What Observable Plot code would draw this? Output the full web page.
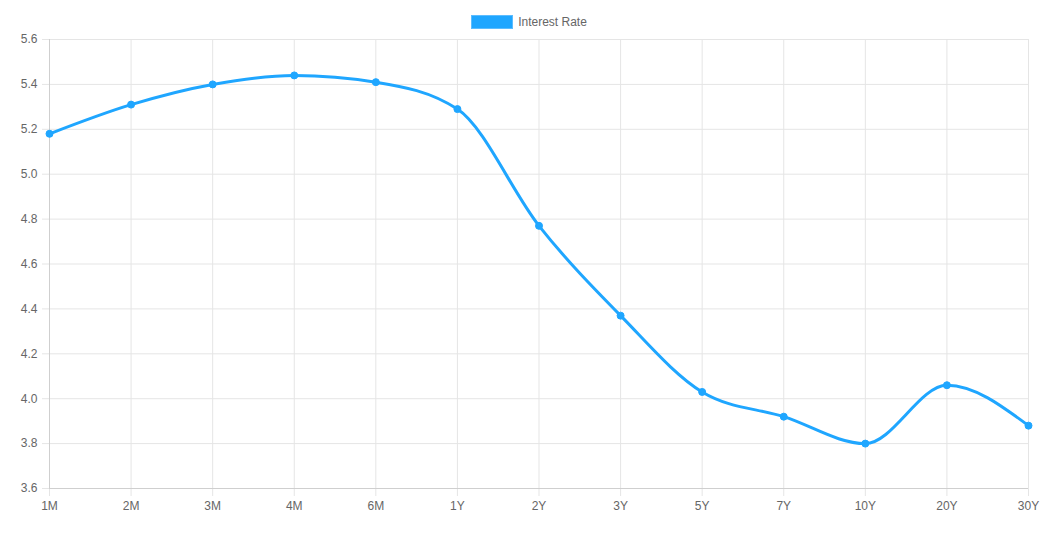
<!DOCTYPE html>
<html>
<head>
<meta charset="utf-8">
<script src="https://cdn.jsdelivr.net/npm/d3@7"></script>
<script src="https://cdn.jsdelivr.net/npm/@observablehq/plot@0.6"></script>
<style>
  html, body { margin: 0; padding: 0; background: #fff; }
  body { width: 1056px; height: 546px; overflow: hidden; font-family: "Liberation Sans", Arial, Helvetica, sans-serif; }
  #legend { height: 28px; display: flex; justify-content: center; align-items: flex-start; }
  #legend .item { display: flex; align-items: center; margin-top: 15px; margin-left: 2px; }
  #legend .box { width: 40px; height: 12px; background: #1fa6ff; border: 1px solid #5cbcff; box-sizing: content-box; margin-right: 5px; }
  #legend .label { font-size: 12px; color: #666; line-height: 14px; }
</style>
</head>
<body>
<div id="legend"><div class="item"><div class="box"></div><div class="label">Interest Rate</div></div></div>
<div id="chart"></div>
<script>
const maturities = ["1M", "2M", "3M", "4M", "6M", "1Y", "2Y", "3Y", "5Y", "7Y", "10Y", "20Y", "30Y"];
const rates = [5.18, 5.31, 5.40, 5.44, 5.41, 5.29, 4.77, 4.37, 4.03, 3.92, 3.80, 4.06, 3.88];
const yTicks = [3.6, 3.8, 4.0, 4.2, 4.4, 4.6, 4.8, 5.0, 5.2, 5.4, 5.6];
const seriesName = "Interest Rate";

const data = maturities.map((m, i) => ({maturity: m, rate: rates[i], series: seriesName}));
const color = "#1fa6ff";
const grid = "#e5e5e5";

const chart = Plot.plot({
  width: 1056,
  height: 518,
  marginTop: 11,
  marginBottom: 58,
  marginLeft: 49,
  marginRight: 28,
  style: {fontFamily: "'Liberation Sans', Arial, Helvetica, sans-serif", fontSize: "12px", background: "#fff"},
  x: {type: "point", domain: maturities, padding: 0, round: false, label: null},
  y: {domain: [3.6, 5.6], label: null},
  marks: [
    Plot.ruleY(yTicks, {y: d => d, stroke: grid, strokeWidth: 1}),
    Plot.ruleX(maturities, {x: d => d, stroke: grid, strokeWidth: 1}),
    Plot.axisY(yTicks, {tickSize: 7, tickPadding: 5, stroke: grid, fill: "#666", tickFormat: d3.format(".1f"), label: null, fontSize: 12}),
    Plot.axisX(maturities, {tickSize: 8, tickPadding: 5, stroke: grid, fill: "#666", label: null, fontSize: 12}),
    Plot.ruleY([3.6], {stroke: "#cfcfcf"}),
    Plot.ruleX([maturities[0]], {stroke: "#cfcfcf"}),
    Plot.line(data, {x: "maturity", y: "rate", stroke: color, strokeWidth: 3, curve: "monotone-x"}),
    Plot.dot(data, {x: "maturity", y: "rate", r: 3.5, fill: color, stroke: color, strokeWidth: 1})
  ]
});
document.getElementById("chart").appendChild(chart);
</script>
</body>
</html>
